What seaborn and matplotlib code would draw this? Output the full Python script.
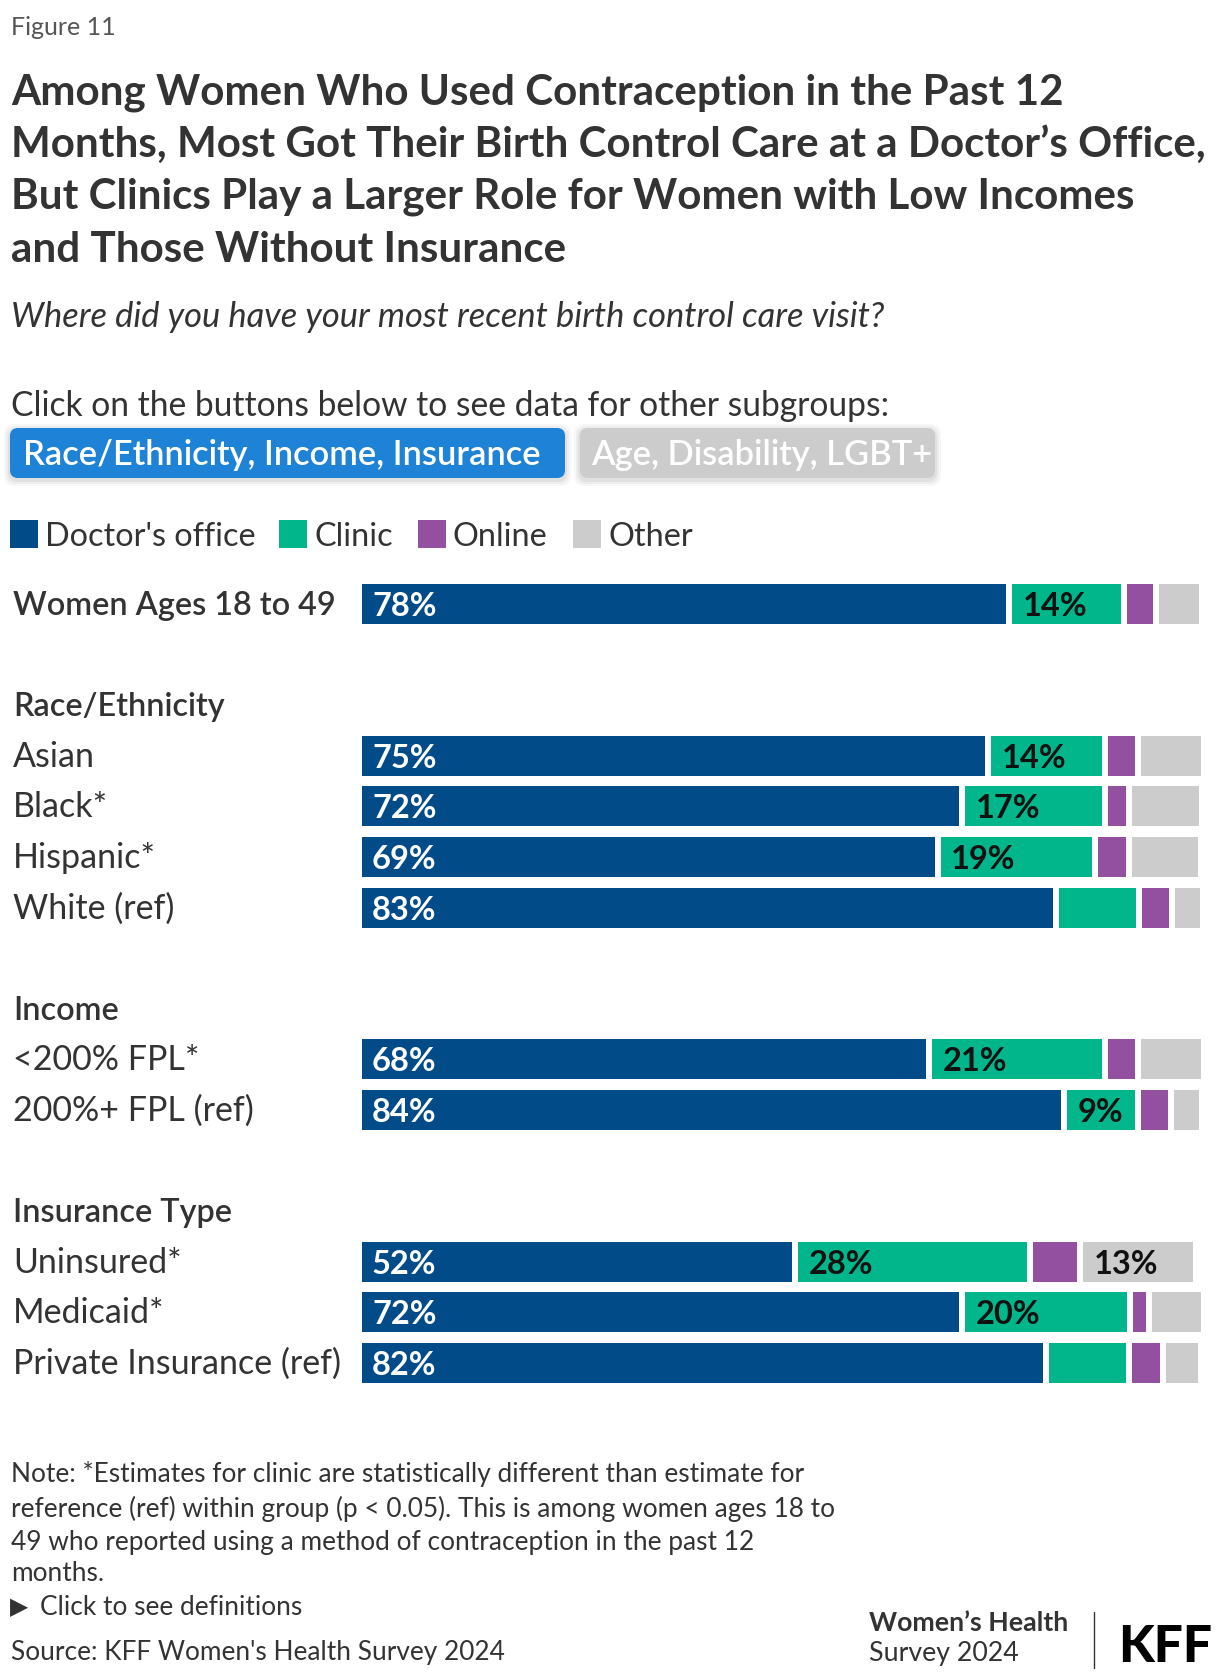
import matplotlib
matplotlib.use("Agg")
import matplotlib.pyplot as plt
import matplotlib.transforms as mtransforms
from matplotlib.patches import FancyBboxPatch, Rectangle
from matplotlib.lines import Line2D
import seaborn as sns
import pandas as pd
import numpy as np

# ---------------- data ----------------
categories = ["Women Ages 18 to 49", "Asian", "Black*", "Hispanic*", "White (ref)",
              "<200% FPL*", "200%+ FPL (ref)", "Uninsured*", "Medicaid*",
              "Private Insurance (ref)"]
category_group = ["", "Race/Ethnicity", "Race/Ethnicity", "Race/Ethnicity", "Race/Ethnicity",
                  "Income", "Income", "Insurance Type", "Insurance Type", "Insurance Type"]
series_names = ["Doctor's office", "Clinic", "Online", "Other"]

doctor = [77.7, 75.2, 72.1, 69.2, 83.3, 68.2, 84.3, 52.2, 72.1, 82.1]
clinic = [13.7, 14.0, 17.1, 18.8, 9.9, 21.0, 8.8, 28.0, 20.1, 10.0]
online = [3.9, 3.9, 2.9, 4.0, 4.0, 3.9, 4.0, 6.0, 2.2, 4.0]
other = [5.5, 7.9, 8.7, 8.7, 3.7, 7.9, 3.7, 13.8, 6.6, 4.6]

doctor_labels = ["78%", "75%", "72%", "69%", "83%", "68%", "84%", "52%", "72%", "82%"]
clinic_labels = ["14%", "14%", "17%", "19%", "", "21%", "9%", "28%", "20%", ""]
online_labels = ["", "", "", "", "", "", "", "", "", ""]
other_labels = ["", "", "", "", "", "", "", "13%", "", ""]

title_lines = ["Among Women Who Used Contraception in the Past 12",
               "Months, Most Got Their Birth Control Care at a Doctor\u2019s Office,",
               "But Clinics Play a Larger Role for Women with Low Incomes",
               "and Those Without Insurance"]
subtitle = "Where did you have your most recent birth control care visit?"
note_lines = ["Note: *Estimates for clinic are statistically different than estimate for",
              "reference (ref) within group (p < 0.05). This is among women ages 18 to",
              "49 who reported using a method of contraception in the past 12",
              "months."]

# ---------------- style ----------------
sns.set_theme(style="white")
plt.rcParams['font.family'] = ['Lato', 'DejaVu Sans']

W, H, DPI = 1220, 1678, 100
TXT = "#333333"
colors = ["#004b88", "#00b68a", "#9450a0", "#cccccc"]
label_colors = ["white", "#111111", "#111111", "#111111"]

fig = plt.figure(figsize=(W / DPI, H / DPI), dpi=DPI)
fig.patch.set_facecolor("white")
T = mtransforms.Affine2D().scale(1.0 / W, -1.0 / H).translate(0, 1) + fig.transFigure
renderer = fig.canvas.get_renderer()


def ptext(x, y, s, size, **kw):
    kw.setdefault("color", TXT)
    return fig.text(x, y, s, transform=T, fontsize=size, va="baseline", **kw)


def wpx(t):
    return t.get_window_extent(renderer).width


def fit(texts, ref, target):
    f = target / wpx(ref)
    for t in texts:
        t.set_fontsize(t.get_fontsize() * f)


# ---------------- header texts ----------------
t_fig = ptext(11, 35, "Figure 11", 17, color="#555555")
fit([t_fig], t_fig, 105)

title_base = [104, 156.5, 209, 261.5]
tts = [ptext(11, y, s, 28, fontweight="bold") for y, s in zip(title_base, title_lines)]
fit(tts, tts[1], 1192)

t_sub = ptext(11, 327, subtitle, 23, style="italic")
fit([t_sub], t_sub, 877)

t_click = ptext(11, 416, "Click on the buttons below to see data for other subgroups:", 23)
fit([t_click], t_click, 882)

# buttons
for (x0, x1), fc in [((10, 565), "#1e82d6"), ((580, 935), "#cccccc")]:
    for k, a in [(6, 0.03), (4, 0.04), (2, 0.05)]:
        fig.patches.append(FancyBboxPatch((x0 - k, 428 - k + 2), x1 - x0 + 2 * k, 50 + 2 * k,
                                          boxstyle="round,pad=0,rounding_size=10",
                                          transform=T, facecolor="black", alpha=a,
                                          edgecolor="none", zorder=1))
    fig.patches.append(FancyBboxPatch((x0, 428), x1 - x0, 50,
                                      boxstyle="round,pad=0,rounding_size=8",
                                      transform=T, facecolor=fc, edgecolor="none", zorder=2))
b1 = ptext(23, 465, "Race/Ethnicity, Income, Insurance", 23, color="white",
           fontweight="semibold", zorder=3)
b2 = ptext(591, 465, "Age, Disability, LGBT+", 23, color="white",
           fontweight="semibold", zorder=3)
fit([b1, b2], b1, 519)

# legend
leg_x = [10, 279, 418, 573]
leg_t = []
for x, name, c in zip(leg_x, series_names, colors):
    fig.patches.append(Rectangle((x, 520), 27.5, 27.5, transform=T, facecolor=c, edgecolor="none"))
    leg_t.append(ptext(x + 35, 546, name, 23))
fit(leg_t, leg_t[0], 211)

# ---------------- bars ----------------
slots = []
header_slots = {}
s = 0
prev = None
for cat, g in zip(categories, category_group):
    if g != prev:
        if g:
            s += 1
            header_slots[g] = s
            s += 1
        prev = g
    slots.append(s)
    s += 1
n_slots = s

px_per_pct = 8.37
ax_left_px = 361.5
pitch = 50.6
slot0_px = 604
xmax = 101
top_px = slot0_px - pitch / 2
bottom_px = slot0_px + (n_slots - 0.5) * pitch
ax = fig.add_axes([ax_left_px / W, 1 - bottom_px / H, xmax * px_per_pct / W, (bottom_px - top_px) / H])

values = [doctor, clinic, online, other]
labels = [doctor_labels, clinic_labels, online_labels, other_labels]
lefts = np.vstack([np.zeros(len(categories)), np.cumsum(np.array(values), axis=0)[:-1]])
gap = 6 / px_per_pct

for i, name in enumerate(series_names):
    d = pd.DataFrame({"slot": slots, "value": values[i]})
    n0 = len(ax.patches)
    sns.barplot(data=d, x="value", y="slot", orient="h", native_scale=True,
                color=colors[i], saturation=1, width=0.79, errorbar=None,
                linewidth=0, ax=ax)
    for p in ax.patches[n0:]:
        yc = p.get_y() + p.get_height() / 2
        j = slots.index(int(round(yc)))
        p.set_x(lefts[i][j])
        p.set_width(p.get_width() - gap)

ax.set_xlim(0, xmax)
ax.set_ylim(n_slots - 0.5, -0.5)
ax.set_axis_off()

lab_t = []
for i in range(4):
    for j in range(len(categories)):
        if labels[i][j]:
            lab_t.append(ax.text(lefts[i][j] + 10.5 / px_per_pct, slots[j] + 12 / pitch,
                                 labels[i][j], color=label_colors[i], fontsize=23,
                                 fontweight="bold", va="baseline"))
fit(lab_t, lab_t[1], 65)

# row labels
bt = mtransforms.blended_transform_factory(fig.transFigure, ax.transData)
row_t = []
bold_t = []
for j, cat in enumerate(categories):
    t = ax.text(13 / W, slots[j] + 11 / pitch, cat, transform=bt, fontsize=22,
                color=TXT, va="baseline",
                fontweight="semibold" if j == 0 else "normal")
    (bold_t if j == 0 else row_t).append(t)
for g, sl in header_slots.items():
    bold_t.append(ax.text(13 / W, sl + 11 / pitch, g, transform=bt, fontsize=22,
                          color=TXT, va="baseline", fontweight="semibold"))
fit(row_t, row_t[categories.index("Private Insurance (ref)") - 1], 327)
fit(bold_t, bold_t[0], 322)

# ---------------- footer ----------------
note_base = [1482, 1516.5, 1550, 1581]
nts = [ptext(11, y, s, 18) for y, s in zip(note_base, note_lines)]
nts.append(ptext(40, 1615, "Click to see definitions", 18))
nts.append(ptext(11, 1660, "Source: KFF Women's Health Survey 2024", 18))
fit(nts, nts[1], 819)
ptext(10, 1614, "\u25B6", 17, family=["DejaVu Sans"])

wh1 = ptext(869, 1631, "Women\u2019s Health", 18, fontweight="bold")
wh2 = ptext(869, 1661, "Survey 2024", 18)
fit([wh1, wh2], wh1, 199)
fig.lines.append(Line2D([1094, 1094], [1612, 1668], transform=T, color="#333333", linewidth=1))
kff = ptext(1118, 1662, "KFF", 32, fontweight="black", color="black")
fit([kff], kff, 94)

fig.savefig("out.png", dpi=DPI, facecolor="white")
